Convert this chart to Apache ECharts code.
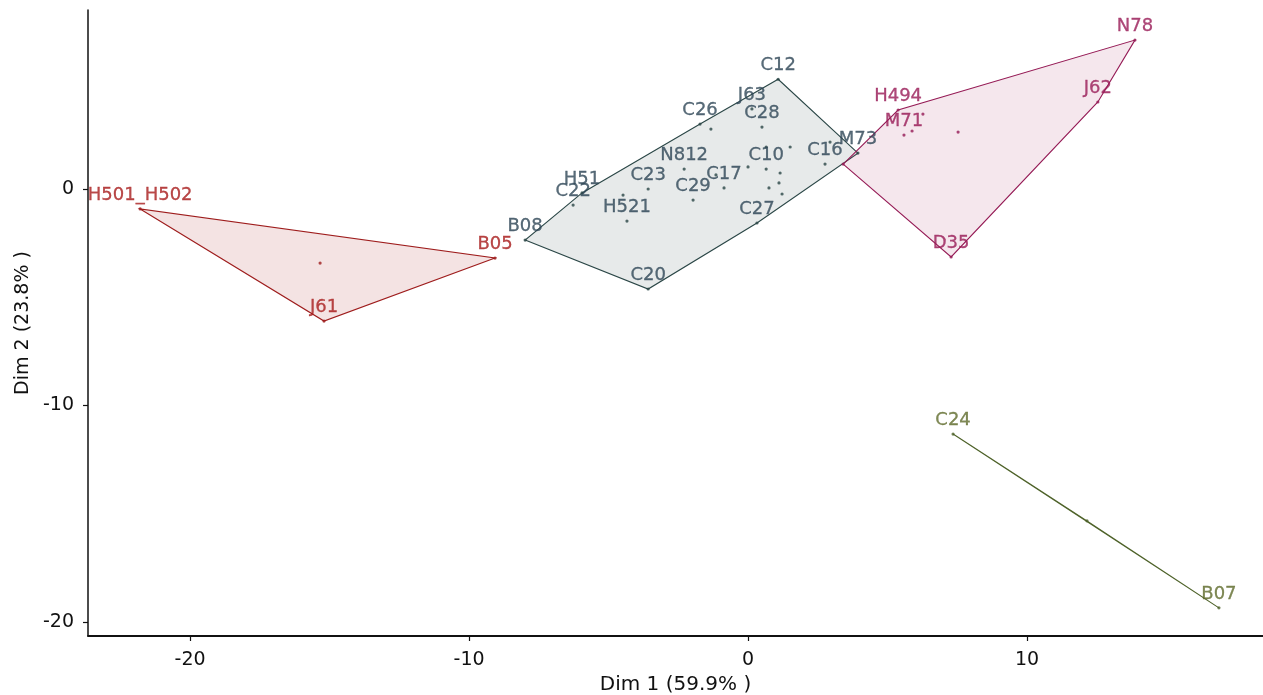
<!DOCTYPE html>
<html>
<head>
<meta charset="utf-8">
<script src="https://cdn.jsdelivr.net/npm/echarts@6/dist/echarts.min.js"></script>
<style>
html,body{margin:0;padding:0;background:#fff;overflow:hidden;}
#chart{width:1263px;height:695px;}
</style>
</head>
<body>
<div id="chart"></div>
<script>
// ---- data ----
const xTicks = [-20, -10, 0, 10];
const yTicks = [-20, -10, 0];
const xTitle = 'Dim 1 (59.9% )';
const yTitle = 'Dim 2 (23.8% )';

const c1Names = ['H501_H502', 'B05', 'J61', ''];
const c1X = [-21.79, -9.07, -15.20, -15.34];
const c1Y = [-0.92, -3.19, -6.10, -3.42];

const c2Names = ['C12', 'J63', 'C28', 'C26', '', 'H51', 'C22', 'N812', 'C23', '', 'H521', 'C29', 'C17', '', '', 'C10', '', '', '', '', '', '', 'C16', '', 'M73', 'C27', 'C20', 'B08'];
const c2X = [1.08, 0.14, 0.50, -1.72, -1.33, -5.95, -6.27, -2.29, -3.58, -4.48, -4.34, -1.97, -0.86, -1.15, 0.00, 0.65, 0.65, 1.51, 1.15, 1.11, 0.75, 1.22, 2.76, 2.94, 3.94, 0.32, -3.58, -7.99];
const c2Y = [5.07, 3.70, 2.86, 3.00, 2.77, -0.18, -0.74, 0.92, 0.00, -0.28, -1.48, -0.51, 0.05, 0.65, 1.02, 0.92, 1.94, 1.94, 0.74, 0.28, 0.05, -0.23, 1.15, 2.17, 1.66, -1.57, -4.62, -2.36];

const c3Names = ['N78', 'J62', 'D35', '', 'H494', 'M71', '', '', ''];
const c3X = [13.87, 12.54, 7.28, 3.41, 5.38, 5.59, 5.88, 6.27, 7.53];
const c3Y = [6.88, 4.02, -3.14, 1.15, 3.65, 2.49, 2.68, 3.46, 2.63];

const c4Names = ['C24', 'B07', ''];
const c4X = [7.35, 16.88, 12.15];
const c4Y = [-11.32, -19.35, -15.33];

// ---- styles ----
const clusters = [
  {names: c1Names, xs: c1X, ys: c1Y, line: '#9E1C1C', label: '#A81C1C', fill: 'rgba(170,40,40,0.13)'},
  {names: c2Names, xs: c2X, ys: c2Y, line: '#2A4646', label: '#2E4656', fill: 'rgba(60,85,85,0.12)'},
  {names: c3Names, xs: c3X, ys: c3Y, line: '#951A55', label: '#981A56', fill: 'rgba(165,35,95,0.11)'},
  {names: c4Names, xs: c4X, ys: c4Y, line: '#4E6229', label: '#5F6B2C', fill: 'rgba(85,107,47,0.12)'}
];

function hull(pts) {
  const p = pts.map((v, i) => [v[0], v[1], i]).sort((a, b) => a[0] - b[0] || a[1] - b[1]);
  const cross = (o, a, b) => (a[0] - o[0]) * (b[1] - o[1]) - (a[1] - o[1]) * (b[0] - o[0]);
  const lower = [], upper = [];
  for (const q of p) { while (lower.length >= 2 && cross(lower[lower.length - 2], lower[lower.length - 1], q) <= 0) lower.pop(); lower.push(q); }
  for (let i = p.length - 1; i >= 0; i--) { const q = p[i]; while (upper.length >= 2 && cross(upper[upper.length - 2], upper[upper.length - 1], q) <= 0) upper.pop(); upper.push(q); }
  upper.pop(); lower.pop();
  return lower.concat(upper);
}

const series = [];
clusters.forEach((c) => {
  const pts = c.xs.map((x, i) => [x, c.ys[i]]);
  const h = hull(pts);
  series.push({
    type: 'custom',
    z: 1,
    silent: true,
    data: [[pts[0][0], pts[0][1]]],
    renderItem: function (params, api) {
      const poly = h.map(q => api.coord([q[0], q[1]]));
      return {
        type: 'polygon',
        shape: {points: poly},
        style: {fill: c.fill, stroke: c.line, lineWidth: 1.1}
      };
    }
  });
  series.push({
    type: 'scatter',
    z: 3,
    symbol: 'circle',
    symbolSize: 3.2,
    itemStyle: {color: c.line},
    data: pts.map((v, i) => ({name: c.names[i], value: v})),
    label: {
      show: true,
      formatter: '{b}',
      position: 'top',
      distance: 3,
      color: c.label,
      textBorderColor: c.label,
      textBorderWidth: 0.3,
      fontFamily: 'DejaVu Sans',
      fontSize: 18
    }
  });
});

const chart = echarts.init(document.getElementById('chart'), null, {renderer: 'canvas'});
chart.setOption({
  animation: false,
  backgroundColor: '#fff',
  grid: {left: 88, right: 0, top: 10, bottom: 59, containLabel: false, outerBoundsMode: 'none'},
  xAxis: {
    type: 'value', min: -23.66, max: 18.46,
    name: xTitle, nameLocation: 'middle', nameGap: 38,
    nameTextStyle: {color: '#111', fontSize: 20, fontFamily: 'DejaVu Sans'},
    splitLine: {show: false},
    axisLine: {show: true, onZero: false, lineStyle: {color: '#111', width: 1.8}},
    axisTick: {show: true, length: 5, customValues: xTicks, lineStyle: {color: '#111', width: 1.2}},
    axisLabel: {customValues: xTicks, color: '#111', fontSize: 19, fontFamily: 'DejaVu Sans', margin: 15}
  },
  yAxis: {
    type: 'value', min: -20.65, max: 8.27,
    name: yTitle, nameLocation: 'middle', nameGap: 55,
    nameTextStyle: {color: '#111', fontSize: 19, fontFamily: 'DejaVu Sans'},
    splitLine: {show: false},
    axisLine: {show: true, onZero: false, lineStyle: {color: '#111', width: 1.5}},
    axisTick: {show: true, length: 5, customValues: yTicks, lineStyle: {color: '#111', width: 1.2}},
    axisLabel: {customValues: yTicks, color: '#111', fontSize: 19, fontFamily: 'DejaVu Sans', margin: 14}
  },
  series: series
});
</script>
</body>
</html>
